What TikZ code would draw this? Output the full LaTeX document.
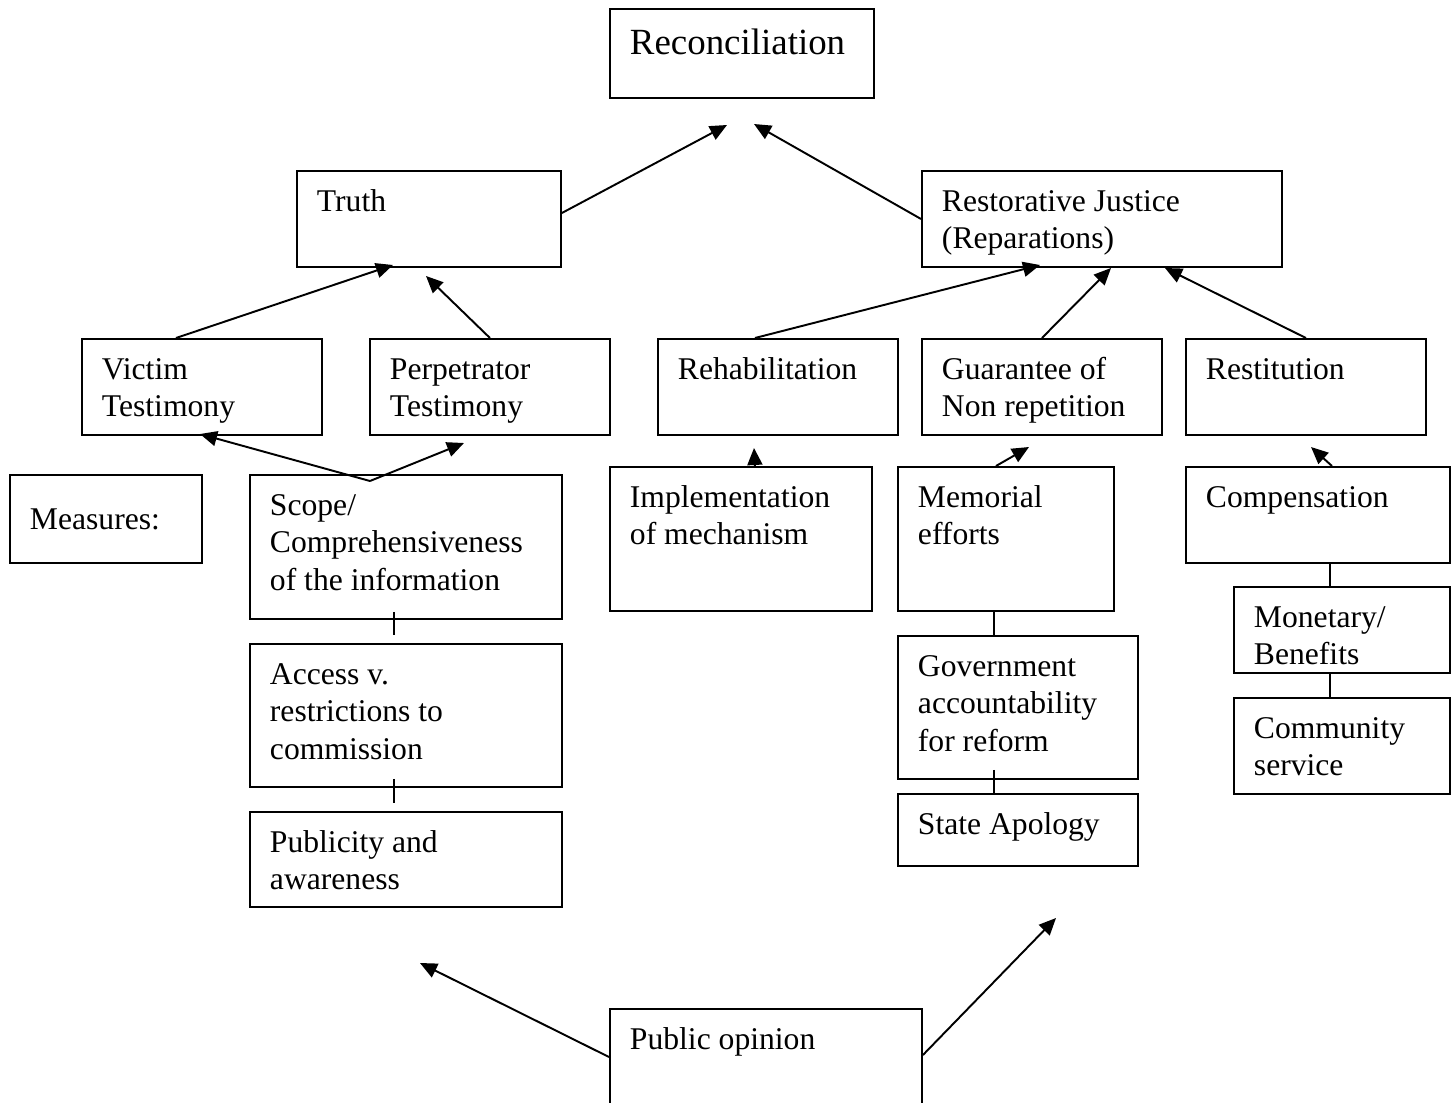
\documentclass[tikz,border=0pt]{standalone}
\usepackage{fontspec}
\setmainfont{Liberation Serif}
\usetikzlibrary{arrows.meta, positioning, calc}
\newlength\pxu
\setlength\pxu{0.02cm}
\tikzset{
  box/.style={draw, line width=1.1pt, anchor=north west,
              inner xsep=0.4cm, inner ysep=0.3cm,
              font=\fontsize{18}{21.1}\selectfont},
  big/.style={font=\fontsize{21}{25}\selectfont},
  arrow/.style={-{Triangle[length=0.34cm, width=0.3cm]}, line width=1.1pt},
  tick/.style={line width=1.1pt},
}
% box with its text set at the top left
\newcommand{\txtbox}[7][]{%
  \node[box,#1] (#2) at (#3,#4)
    {\parbox[c][\dimexpr #6\pxu-0.6cm\relax][t]{\dimexpr #5\pxu-0.8cm\relax}{\raggedright\strut #7}};}

\begin{document}
\begin{tikzpicture}[x=0.02cm, y=-0.02cm]
        \useasboundingbox (0,0) rectangle (1455,1103);

        % top levels
        \txtbox[big]{recon}{609}{8}{264}{89}{Reconciliation}
        \txtbox{truth}{296}{170}{264}{96}{Truth}
        \txtbox{restor}{921}{170}{360}{96}{Restorative Justice\\(Reparations)}

        % components
        \txtbox{victim}{81}{338}{240}{96}{Victim\\Testimony}
        \txtbox{perp}{369}{338}{240}{96}{Perpetrator\\Testimony}
        \txtbox{rehab}{657}{338}{240}{96}{Rehabilitation}
        \txtbox{guar}{921}{338}{240}{96}{Guarantee of\\Non repetition}
        \txtbox{restit}{1185}{338}{240}{96}{Restitution}

        % measures
        \node[box, minimum width=3.84cm, minimum height=1.76cm,
              text width=3.04cm, align=left] (measures) at (9,474) {Measures:};
        \txtbox{scope}{249}{474}{312}{144}{Scope/\\Comprehensiveness\\of the information}
        \txtbox{access}{249}{643}{312}{143}{Access v.\\restrictions to\\commission}
        \txtbox{publ}{249}{811}{312}{95}{Publicity and\\awareness}
        \txtbox{impl}{609}{466}{262}{144}{Implementation\\of mechanism}
        \txtbox{memo}{897}{466}{216}{144}{Memorial\\efforts}
        \txtbox{gov}{897}{635}{240}{143}{Government\\accountability\\for reform}
        \txtbox{apology}{897}{793}{240}{72}{State Apology}
        \txtbox{comp}{1185}{466}{264}{96}{Compensation}
        \txtbox{money}{1233}{586}{216}{86}{Monetary/\\Benefits}
        \txtbox{commun}{1233}{697}{216}{96}{Community\\service}
        \txtbox{opinion}{609}{1008}{312}{110}{Public opinion}

        % free arrow ends
        \coordinate (reconTipL) at (727,125);
        \coordinate (reconTipR) at (754,124);
        \coordinate (truthTipL) at (393,265);
        \coordinate (truthTipR) at (426,276);
        \coordinate (restorTipL) at (1040,265);
        \coordinate (restorTipM) at (1111,268);
        \coordinate (restorTipR) at (1165,268);
        \coordinate (scopeApex) at ($(scope.north)+(-36,7)$);
        \coordinate (victimTip) at (200,434);
        \coordinate (perpTip) at (464,443);
        \coordinate (rehabTip) at (754,448);
        \coordinate (guarTip) at (1029,447);
        \coordinate (restitTip) at (1311,447);
        \coordinate (opinionTipL) at (420,963);
        \coordinate (opinionTipR) at (1056,918);

        % arrows up
        \draw[arrow] ($(truth.east)+(0,-6)$) -- (reconTipL);
        \draw[arrow] (restor.west) -- (reconTipR);
        \draw[arrow] ($(victim.north)+(-26,0)$) -- (truthTipL);
        \draw[arrow] (perp.north) -- (truthTipR);
        \draw[arrow] ($(rehab.north)+(-23,0)$) -- (restorTipL);
        \draw[arrow] (guar.north) -- (restorTipM);
        \draw[arrow] (restit.north) -- (restorTipR);
        \draw[arrow] (scopeApex) -- (victimTip);
        \draw[arrow] (scopeApex) -- (perpTip);
        \draw[arrow] ($(impl.north)+(14,0)$) -- (rehabTip);
        \draw[arrow] ($(memo.north)+(-10,0)$) -- (guarTip);
        \draw[arrow] ($(comp.north)+(14,0)$) -- (restitTip);
        \draw[arrow] ($(opinion.north west)+(0,49)$) -- (opinionTipL);
        \draw[arrow] ($(opinion.north east)+(0,47)$) -- (opinionTipR);

        % small links between stacked boxes
        \draw[tick] ($(scope.south)+(-12,-8)$) -- ($(access.north)+(-12,-8)$);
        \draw[tick] ($(access.south)+(-12,-9)$) -- ($(publ.north)+(-12,-8)$);
        \draw[tick] ($(memo.south)+(-12,0)$) -- ($(gov.north)+(-24,0)$);
        \draw[tick] ($(gov.south)+(-24,-10)$) -- ($(apology.north)+(-24,0)$);
        \draw[tick] ($(comp.south)+(12,0)$) -- ($(money.north)+(-12,0)$);
        \draw[tick] ($(money.south)+(-12,0)$) -- ($(commun.north)+(-12,0)$);

      \end{tikzpicture}
\end{document}
